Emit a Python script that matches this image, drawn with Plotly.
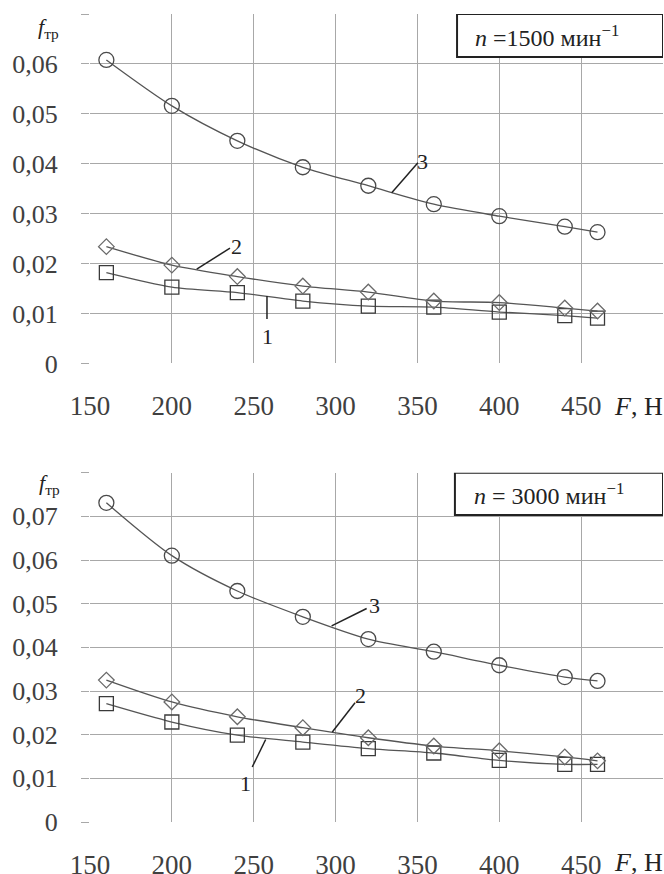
import plotly.graph_objects as go

# ---------------- data ----------------
F = [160, 200, 240, 280, 320, 360, 400, 440, 460]

# n = 1500 min^-1
top_1 = [0.0182, 0.0153, 0.0142, 0.0125, 0.0115, 0.0113, 0.0103, 0.0096, 0.0091]
top_2 = [0.0234, 0.0197, 0.0174, 0.0155, 0.0143, 0.0125, 0.0122, 0.0111, 0.0105]
top_3 = [0.0608, 0.0516, 0.0446, 0.0393, 0.0356, 0.0319, 0.0295, 0.0274, 0.0263]

# n = 3000 min^-1
bot_1 = [0.0271, 0.0229, 0.0199, 0.0183, 0.0168, 0.0158, 0.0141, 0.0132, 0.0132]
bot_2 = [0.0325, 0.0275, 0.0241, 0.0216, 0.0193, 0.0174, 0.0163, 0.0149, 0.0140]
bot_3 = [0.0731, 0.0610, 0.0529, 0.0470, 0.0419, 0.0390, 0.0359, 0.0332, 0.0323]

x_tickvals = [150, 200, 250, 300, 350, 400, 450, 500]
x_ticktext = ["150", "200", "250", "300", "350", "400", "450", ""]
top_y_tickvals = [0, 0.01, 0.02, 0.03, 0.04, 0.05, 0.06, 0.07]
top_y_ticktext = ["0", "0,01", "0,02", "0,03", "0,04", "0,05", "0,06", ""]
bot_y_tickvals = [0, 0.01, 0.02, 0.03, 0.04, 0.05, 0.06, 0.07, 0.08]
bot_y_ticktext = ["0", "0,01", "0,02", "0,03", "0,04", "0,05", "0,06", "0,07", ""]

top_title = "<i>n</i> =1500 мин<sup>−1</sup>"
bot_title = "<i>n</i> = 3000 мин<sup>−1</sup>"
y_title = "<i>f</i><sub>тр</sub>"
x_title = "<i>F</i>, Н"

# ---------------- figure ----------------
FONT = "Liberation Serif, Times New Roman, serif"
LINE = "#555555"
GRID = "#a8a8a8"

fig = go.Figure()

def add_series(y, symbol, size, mcolor, xa, ya):
    fig.add_trace(go.Scatter(
        x=F, y=y, mode="lines+markers", xaxis=xa, yaxis=ya,
        line=dict(color=LINE, width=1.3, shape="spline", smoothing=0.8),
        marker=dict(symbol=symbol, size=size, color=mcolor,
                    line=dict(color=mcolor, width=1.3)),
        showlegend=False, hoverinfo="skip"))

add_series(top_1, "square-open", 14, "#3a3a3a", "x", "y")
add_series(top_2, "diamond-open", 12, "#6a6a6a", "x", "y")
add_series(top_3, "circle-open", 15, "#4a4a4a", "x", "y")
add_series(bot_1, "square-open", 14, "#3a3a3a", "x2", "y2")
add_series(bot_2, "diamond-open", 12, "#6a6a6a", "x2", "y2")
add_series(bot_3, "circle-open", 15, "#4a4a4a", "x2", "y2")

xaxis_common = dict(
    range=[150, 500], tickmode="array", tickvals=x_tickvals, ticktext=x_ticktext,
    showgrid=True, gridcolor=GRID, gridwidth=1, zeroline=False, showline=False,
    ticks="", tickfont=dict(family=FONT, size=27, color="#404040"),
    ticklabelstandoff=24, fixedrange=True, automargin=False)
yaxis_common = dict(
    tickmode="array", showgrid=True, gridcolor=GRID, gridwidth=1,
    zeroline=False, showline=False, ticks="outside", ticklen=8,
    tickcolor=GRID, tickwidth=1,
    tickfont=dict(family=FONT, size=26, color="#404040"),
    ticklabelstandoff=18, fixedrange=True, automargin=False)

fig.update_layout(
    width=664, height=874,
    margin=dict(l=90, r=1, t=14, b=52),
    paper_bgcolor="white", plot_bgcolor="white",
    font=dict(family=FONT, color="#222222"),
    xaxis=dict(xaxis_common, anchor="y", domain=[0, 1]),
    yaxis=dict(yaxis_common, anchor="x", domain=[0.5675, 1.0], range=[0, 0.07],
               tickvals=top_y_tickvals, ticktext=top_y_ticktext),
    xaxis2=dict(xaxis_common, anchor="y2", domain=[0, 1]),
    yaxis2=dict(yaxis_common, anchor="x2", domain=[0.0, 0.4323], range=[0, 0.08],
                tickvals=bot_y_tickvals, ticktext=bot_y_ticktext),
)

shapes = []
# title boxes
shapes.append(dict(type="rect", xref="x", yref="y", x0=374.2, x1=500, y0=0.0614, y1=0.07,
                   line=dict(color="#222222", width=2), fillcolor="white", layer="above"))
shapes.append(dict(type="rect", xref="x2", yref="y2", x0=372.9, x1=500, y0=0.0703, y1=0.08,
                   line=dict(color="#222222", width=2), fillcolor="white", layer="above"))
# leader lines (top)
for (x0, y0, x1, y1) in [(334.3, 0.0342, 350.3, 0.0402),
                         (215.2, 0.0189, 235.5, 0.0231),
                         (258.1, 0.0135, 258.1, 0.0089)]:
    shapes.append(dict(type="line", xref="x", yref="y", x0=x0, y0=y0, x1=x1, y1=y1,
                       line=dict(color="#222222", width=1.5)))
# leader lines (bottom)
for (x0, y0, x1, y1) in [(297.6, 0.0449, 319.0, 0.0489),
                         (298.0, 0.0206, 311.9, 0.0273),
                         (257.3, 0.0189, 249.1, 0.0126)]:
    shapes.append(dict(type="line", xref="x2", yref="y2", x0=x0, y0=y0, x1=x1, y1=y1,
                       line=dict(color="#222222", width=1.5)))
fig.update_layout(shapes=shapes)

def txt(x, y, t, xref, yref, size=22, xanchor="center"):
    fig.add_annotation(x=x, y=y, xref=xref, yref=yref, text=t, showarrow=False,
                       xanchor=xanchor, yanchor="middle",
                       font=dict(family=FONT, size=size, color="#222222"))

# curve numbers
txt(353.4, 0.0405, "3", "x", "y")
txt(239.2, 0.0234, "2", "x", "y")
txt(258.7, 0.0055, "1", "x", "y")
txt(323.5, 0.0496, "3", "x2", "y2")
txt(315.5, 0.0289, "2", "x2", "y2")
txt(244.7, 0.0089, "1", "x2", "y2")

# box titles
txt(383.9, 0.0656, top_title, "x", "y", size=24, xanchor="left")
txt(383.1, 0.0751, bot_title, "x2", "y2", size=24, xanchor="left")

# axis titles positioned in paper px
W, H, L, T, B = 664, 874, 90, 14, 52
def px_to_paper(px, py):
    return (px - L) / (W - L - 1), (H - B - py) / (H - T - B)

for (px, py, t, size) in [(48, 28, y_title, 22),
                          (49, 484, y_title, 22),
                          (638, 406, x_title, 26),
                          (638, 862, x_title, 26)]:
    xp, yp = px_to_paper(px, py)
    fig.add_annotation(x=xp, y=yp, xref="paper", yref="paper", text=t, showarrow=False,
                       xanchor="center", yanchor="middle",
                       font=dict(family=FONT, size=size, color="#222222"))

fig.write_html("out.html", config={"displayModeBar": False},
               post_script="document.body.style.margin='0px';document.body.style.overflow='hidden';")
